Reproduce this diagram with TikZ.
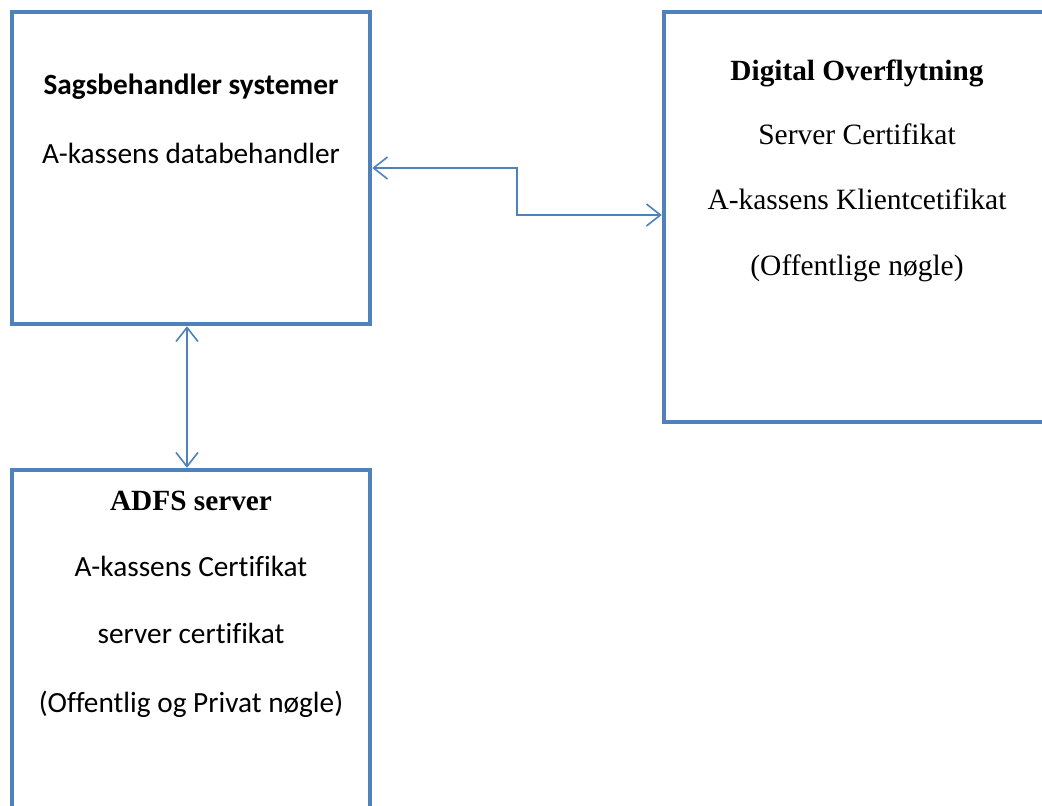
\documentclass[tikz,border=0pt]{standalone}
\usepackage{fontspec}
\setmainfont{Liberation Serif}
\newfontfamily\carlitofont[Ligatures=NoCommon]{Carlito}
\usetikzlibrary{arrows.meta}
\definecolor{boxblue}{HTML}{4F81BD}
\tikzset{
  box/.style={draw=boxblue, line width=4.5pt, rectangle, inner sep=0pt},
  conn/.style={draw=boxblue, line width=1.6pt, {Straight Barb[length=14pt,width=22pt,line width=1.6pt]}-{Straight Barb[length=14pt,width=22pt,line width=1.6pt]}},
  ctext/.style={anchor=base, inner sep=0pt, font=\carlitofont\fontsize{29.3}{34}\selectfont},
  ctitle/.style={anchor=base, inner sep=0pt, font=\carlitofont\bfseries\fontsize{29.3}{34}\selectfont},
  ttext/.style={anchor=base, inner sep=0pt, font=\fontsize{29.5}{34}\selectfont},
  ttitle/.style={anchor=base, inner sep=0pt, font=\bfseries\fontsize{29.3}{34}\selectfont}
}
\begin{document}
\begin{tikzpicture}[x=1pt,y=-1pt]
\useasboundingbox (0,0) rectangle (1042,806);
\clip (0,0) rectangle (1042,806);
\fill[white] (0,0) rectangle (1042,806);
\node[box, minimum width=358pt, minimum height=312pt] (b1) at (191,168) {};
\node[box, minimum width=386pt, minimum height=410pt] (b2) at (857,217) {};
\node[box, minimum width=358pt, minimum height=380pt] (b3) at (191,660) {};
% texts box 1
\node[ctitle] (t1a) at (191,94) {Sagsbehandler systemer};
\node[ctext] (t1b) at (191,163) {A-kassens databehandler};
% texts box 2
\node[ttitle] (t2a) at (857,80) {Digital Overflytning};
\node[ttext] (t2b) at (857,144) {Server Certifikat};
\node[ttext] (t2c) at (857,209) {A-kassens Klientcetifikat};
\node[ttext] (t2d) at (857,275) {(Offentlige nøgle)};
% texts box 3
\node[ttitle] (t3a) at (191,510) {ADFS server};
\node[ctext] (t3b) at (191,576) {A-kassens Certifikat};
\node[ctext] (t3c) at (191,643) {server certifikat};
\node[ctext] (t3d) at (191,712) {(Offentlig og Privat nøgle)};
% connectors
\coordinate (mid) at (517,190);
\draw[conn] (b1.east) -| (mid) |- ([yshift=2pt]b2.west);
\draw[conn] ([xshift=-4pt]b1.south) -- ([xshift=-4pt]b3.north);
\end{tikzpicture}
\end{document}
